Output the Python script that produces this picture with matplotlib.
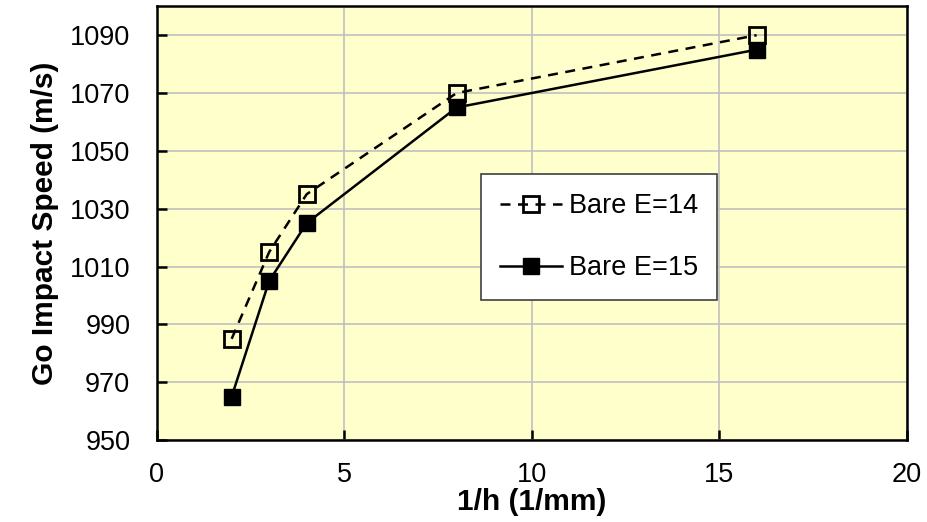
import numpy as np
import matplotlib
matplotlib.use("Agg")
import matplotlib.pyplot as plt

plt.rcParams['font.family'] = ['Liberation Sans', 'DejaVu Sans']

# data
invH = [2, 3, 4, 8, 16]
speedE14 = [985, 1015, 1035, 1070, 1090]
speedE15 = [965, 1005, 1025, 1065, 1085]
xTicks = [0, 5, 10, 15, 20]
yTicks = [950, 970, 990, 1010, 1030, 1050, 1070, 1090]

fig = plt.figure(figsize=(9.27, 5.22), dpi=100)
ax = fig.add_axes([0.169, 0.157, 0.809, 0.831])
ax.set_facecolor('#FFFFCC')

ax.plot(invH, speedE14, 'k--', linewidth=1.8, marker='s', markersize=12,
        markerfacecolor='none', markeredgewidth=2, dashes=(4, 3),
        label='Bare E=14')
ax.plot(invH, speedE15, 'k-', linewidth=1.8, marker='s', markersize=12,
        markerfacecolor='k', label='Bare E=15')

ax.set_xlim(0, 20)
ax.set_ylim(950, 1100)
ax.set_xticks(xTicks)
ax.set_yticks(yTicks)
ax.grid(True, color='#C0C0C0', linewidth=1.2)
ax.set_axisbelow(True)
ax.tick_params(direction='in', length=7, width=1.8, labelsize=19.5)
ax.tick_params(axis='y', pad=19)
ax.tick_params(axis='x', pad=16)
for s in ax.spines.values():
    s.set_linewidth(1.8)

ax.set_xlabel('1/h (1/mm)', fontsize=21.5, fontweight='bold', labelpad=0)
ax.set_ylabel('Go Impact Speed (m/s)', fontsize=21.5, fontweight='bold', labelpad=8)

leg = ax.legend(loc='upper left', bbox_to_anchor=(0.432, 0.613), borderaxespad=0,
                fontsize=19.5, frameon=True, fancybox=False, edgecolor='#404040',
                framealpha=1, borderpad=0.7, labelspacing=1.33, handlelength=2.3,
                handletextpad=0.25)
leg.get_frame().set_linewidth(1.2)

fig.savefig('out.png', dpi=100)
